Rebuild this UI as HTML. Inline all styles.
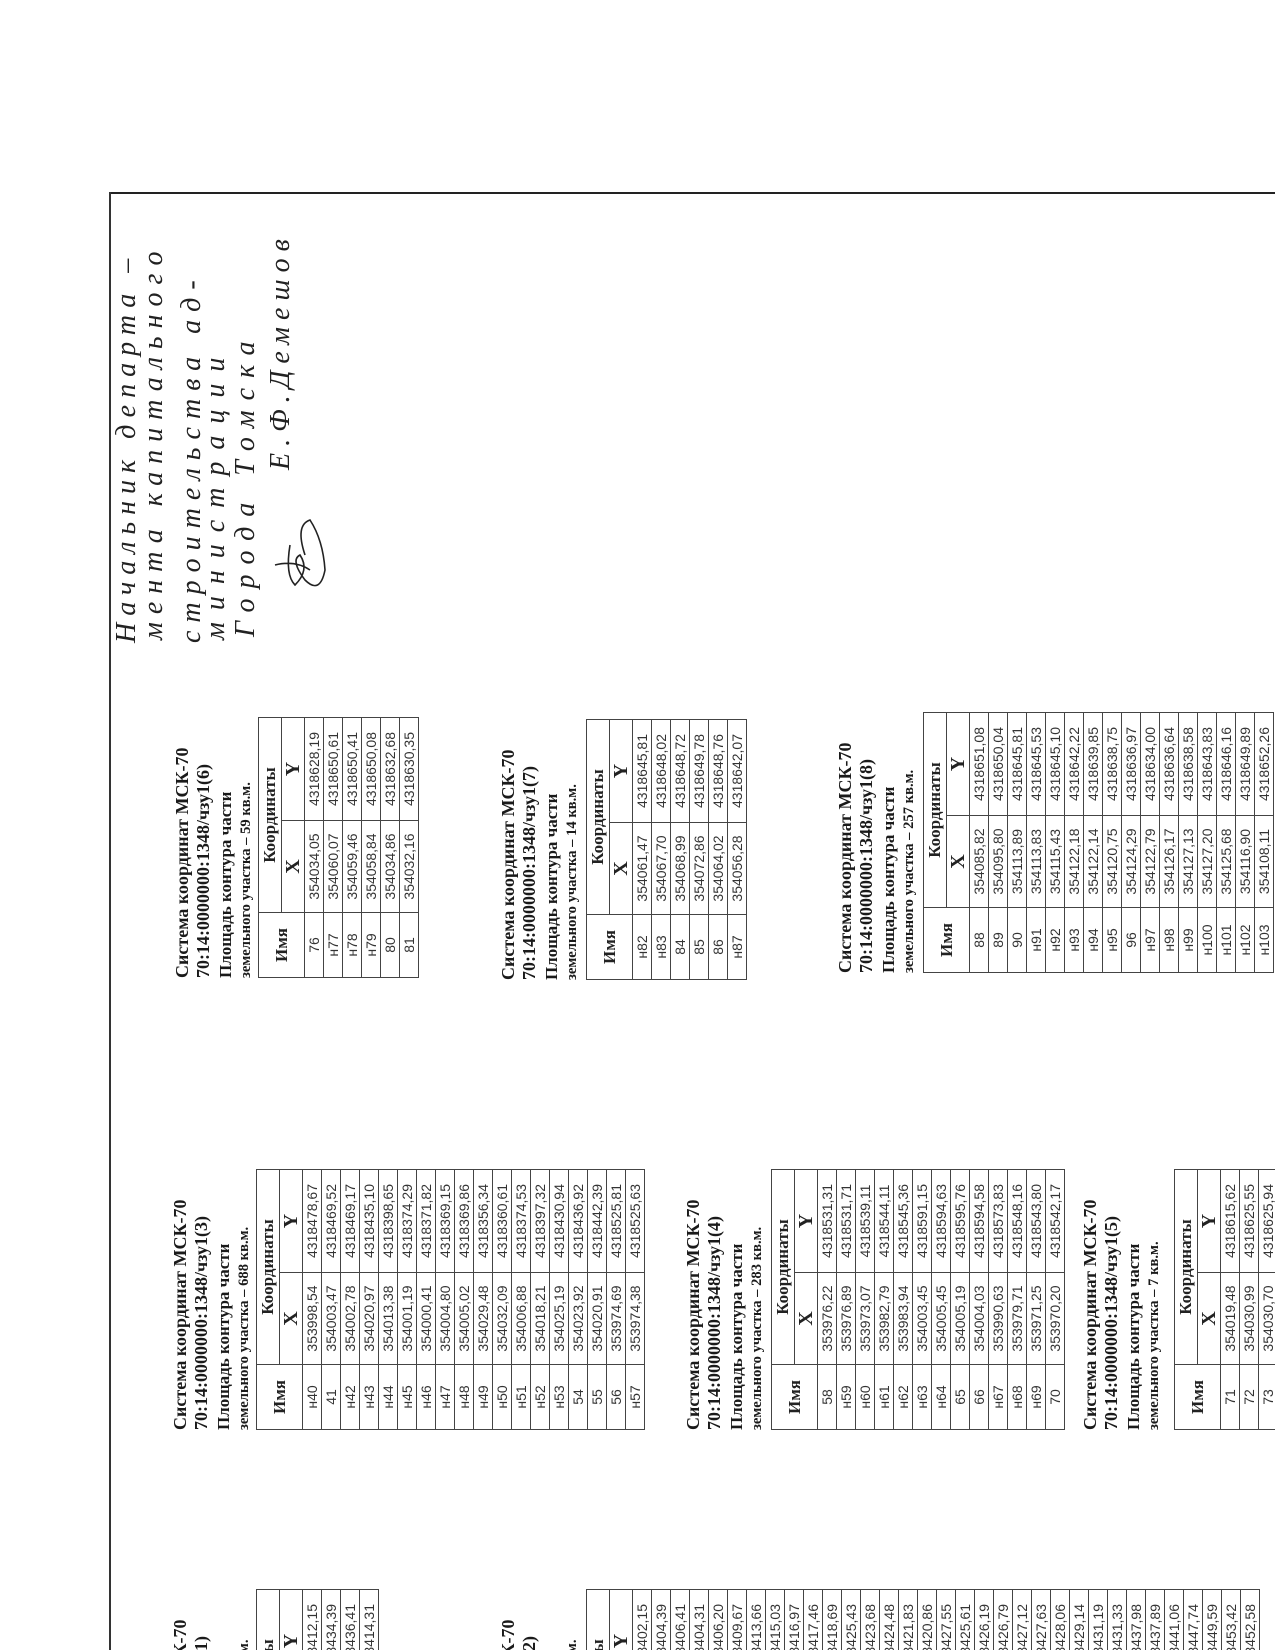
<!DOCTYPE html>
<html><head><meta charset="utf-8">
<style>
html,body{margin:0;padding:0;background:#fff;width:1275px;height:1650px;overflow:hidden;}
#pg{position:relative;width:1275px;height:1650px;overflow:hidden;background:#fff;}
.frameT{position:absolute;left:110px;top:192px;width:1165px;height:2px;background:#222;}
.frameL{position:absolute;left:109px;top:192px;width:2px;height:1458px;background:#333;}
.b{position:absolute;width:262px;height:700px;transform:rotate(-90deg);transform-origin:0 0;}
.t{position:absolute;left:0;white-space:nowrap;font-family:"Liberation Serif","DejaVu Serif",serif;font-weight:bold;color:#1a1a1a;}
.l1{top:0;font-size:18px;line-height:21px;}
.l2{top:21px;font-size:18px;line-height:21px;}
.l3{top:43px;font-size:17px;line-height:21px;}
.l4{top:64px;font-size:14.6px;line-height:20px;}
table{position:absolute;left:0;border-collapse:collapse;table-layout:fixed;width:260px;}
td,th{border:1.5px solid #444;padding:0;text-align:center;overflow:hidden;white-space:nowrap;}
th{font-family:"Liberation Serif",serif;font-weight:bold;color:#222;height:22px;line-height:20px;}
th.n{font-size:17px;}
th.k{font-size:17px;}
th.xy{font-size:20px;}
td{height:18px;line-height:17px;font-family:"Liberation Sans",sans-serif;font-size:14px;color:#333;}
.hw{position:absolute;white-space:nowrap;font-family:"Liberation Serif",serif;font-style:italic;font-size:28px;line-height:32px;color:#222;transform:rotate(-90deg);transform-origin:0 0;}
</style></head><body>
<div id="pg">
<div class="frameT"></div><div class="frameL"></div>

<div class="hw" style="left:111px;top:643px;letter-spacing:7px;">Начальник департа –</div>
<div class="hw" style="left:138px;top:640px;letter-spacing:8px;">мента капитального</div>
<div class="hw" style="left:176px;top:643px;letter-spacing:8px;">строительства ад-</div>
<div class="hw" style="left:200px;top:640px;letter-spacing:12px;">министрации</div>
<div class="hw" style="left:230px;top:637px;letter-spacing:10px;">Города Томска</div>
<div class="hw" style="left:265px;top:470px;letter-spacing:7px;">Е.Ф.Демешов</div>
<svg style="position:absolute;left:265px;top:500px" width="80" height="100" viewBox="0 0 80 100">
<path d="M10 65 Q30 60 45 70 M25 45 Q20 75 30 85 Q45 70 35 55 Q25 60 40 80 Q55 95 60 70 Q58 40 45 20 Q30 25 40 55" fill="none" stroke="#222" stroke-width="1.6"/>
</svg>

<div class="b" style="left:170px;top:1850px;">
<div class="t l1">Система координат МСК-70</div>
<div class="t l2">70:14:0000000:1348/чзу1(1)</div>
<div class="t l3">Площадь контура части</div>
<div class="t l4">земельного участка – 1006 кв.м.</div>
<table style="top:86px"><colgroup><col style="width:65px"><col style="width:92px"><col style="width:103px"></colgroup>
<tr><th class="n" rowspan="2">Имя</th><th class="k" colspan="2">Координаты</th></tr>
<tr><th class="xy">X</th><th class="xy">Y</th></tr>
<tr><td>1</td><td>353911,24</td><td>4318412,15</td></tr>
<tr><td>2</td><td>353918,03</td><td>4318434,39</td></tr>
<tr><td>3</td><td>353923,58</td><td>4318436,41</td></tr>
<tr><td>4</td><td>353921,71</td><td>4318414,31</td></tr>
</table></div>

<div class="b" style="left:498px;top:1850px;">
<div class="t l1">Система координат МСК-70</div>
<div class="t l2">70:14:0000000:1348/чзу1(2)</div>
<div class="t l3">Площадь контура части</div>
<div class="t l4">земельного участка – 1091 кв.м.</div>
<table style="top:88px"><colgroup><col style="width:65px"><col style="width:92px"><col style="width:103px"></colgroup>
<tr><th class="n" rowspan="2">Имя</th><th class="k" colspan="2">Координаты</th></tr>
<tr><th class="xy">X</th><th class="xy">Y</th></tr>
<tr><td>5</td><td>353930,10</td><td>4318402,15</td></tr>
<tr><td>6</td><td>353931,20</td><td>4318404,39</td></tr>
<tr><td>7</td><td>353932,30</td><td>4318406,41</td></tr>
<tr><td>8</td><td>353933,40</td><td>4318404,31</td></tr>
<tr><td>9</td><td>353934,50</td><td>4318406,20</td></tr>
<tr><td>10</td><td>353935,60</td><td>4318409,67</td></tr>
<tr><td>11</td><td>353936,70</td><td>4318413,66</td></tr>
<tr><td>12</td><td>353937,80</td><td>4318415,03</td></tr>
<tr><td>13</td><td>353938,90</td><td>4318416,97</td></tr>
<tr><td>14</td><td>353939,10</td><td>4318417,46</td></tr>
<tr><td>15</td><td>353940,20</td><td>4318418,69</td></tr>
<tr><td>16</td><td>353941,30</td><td>4318425,43</td></tr>
<tr><td>17</td><td>353942,40</td><td>4318423,68</td></tr>
<tr><td>18</td><td>353943,50</td><td>4318424,48</td></tr>
<tr><td>19</td><td>353944,60</td><td>4318421,83</td></tr>
<tr><td>20</td><td>353945,70</td><td>4318420,86</td></tr>
<tr><td>21</td><td>353946,80</td><td>4318427,55</td></tr>
<tr><td>22</td><td>353947,90</td><td>4318425,61</td></tr>
<tr><td>23</td><td>353948,10</td><td>4318426,19</td></tr>
<tr><td>24</td><td>353949,20</td><td>4318426,79</td></tr>
<tr><td>25</td><td>353950,30</td><td>4318427,12</td></tr>
<tr><td>26</td><td>353951,40</td><td>4318427,63</td></tr>
<tr><td>27</td><td>353952,50</td><td>4318428,06</td></tr>
<tr><td>28</td><td>353953,60</td><td>4318429,14</td></tr>
<tr><td>29</td><td>353954,70</td><td>4318431,19</td></tr>
<tr><td>30</td><td>353955,80</td><td>4318431,33</td></tr>
<tr><td>31</td><td>353956,90</td><td>4318437,98</td></tr>
<tr><td>32</td><td>353957,10</td><td>4318437,89</td></tr>
<tr><td>33</td><td>353958,20</td><td>4318441,06</td></tr>
<tr><td>34</td><td>353959,30</td><td>4318447,74</td></tr>
<tr><td>35</td><td>353960,40</td><td>4318449,59</td></tr>
<tr><td>36</td><td>353961,50</td><td>4318453,42</td></tr>
<tr><td>37</td><td>353962,60</td><td>4318452,58</td></tr>
</table></div>

<div class="b" style="left:170px;top:1430px;">
<div class="t l1">Система координат МСК-70</div>
<div class="t l2">70:14:0000000:1348/чзу1(3)</div>
<div class="t l3">Площадь контура части</div>
<div class="t l4">земельного участка – 688 кв.м.</div>
<table style="top:86px"><colgroup><col style="width:65px"><col style="width:92px"><col style="width:103px"></colgroup>
<tr><th class="n" rowspan="2">Имя</th><th class="k" colspan="2">Координаты</th></tr>
<tr><th class="xy">X</th><th class="xy">Y</th></tr>
<tr><td>н40</td><td>353998,54</td><td>4318478,67</td></tr>
<tr><td>41</td><td>354003,47</td><td>4318469,52</td></tr>
<tr><td>н42</td><td>354002,78</td><td>4318469,17</td></tr>
<tr><td>н43</td><td>354020,97</td><td>4318435,10</td></tr>
<tr><td>н44</td><td>354013,38</td><td>4318398,65</td></tr>
<tr><td>н45</td><td>354001,19</td><td>4318374,29</td></tr>
<tr><td>н46</td><td>354000,41</td><td>4318371,82</td></tr>
<tr><td>н47</td><td>354004,80</td><td>4318369,15</td></tr>
<tr><td>н48</td><td>354005,02</td><td>4318369,86</td></tr>
<tr><td>н49</td><td>354029,48</td><td>4318356,34</td></tr>
<tr><td>н50</td><td>354032,09</td><td>4318360,61</td></tr>
<tr><td>н51</td><td>354006,88</td><td>4318374,53</td></tr>
<tr><td>н52</td><td>354018,21</td><td>4318397,32</td></tr>
<tr><td>н53</td><td>354025,19</td><td>4318430,94</td></tr>
<tr><td>54</td><td>354023,92</td><td>4318436,92</td></tr>
<tr><td>55</td><td>354020,91</td><td>4318442,39</td></tr>
<tr><td>56</td><td>353974,69</td><td>4318525,81</td></tr>
<tr><td>н57</td><td>353974,38</td><td>4318525,63</td></tr>
</table></div>

<div class="b" style="left:683px;top:1430px;">
<div class="t l1">Система координат МСК-70</div>
<div class="t l2">70:14:0000000:1348/чзу1(4)</div>
<div class="t l3">Площадь контура части</div>
<div class="t l4">земельного участка – 283 кв.м.</div>
<table style="top:88px"><colgroup><col style="width:65px"><col style="width:92px"><col style="width:103px"></colgroup>
<tr><th class="n" rowspan="2">Имя</th><th class="k" colspan="2">Координаты</th></tr>
<tr><th class="xy">X</th><th class="xy">Y</th></tr>
<tr><td>58</td><td>353976,22</td><td>4318531,31</td></tr>
<tr><td>н59</td><td>353976,89</td><td>4318531,71</td></tr>
<tr><td>н60</td><td>353973,07</td><td>4318539,11</td></tr>
<tr><td>н61</td><td>353982,79</td><td>4318544,11</td></tr>
<tr><td>н62</td><td>353983,94</td><td>4318545,36</td></tr>
<tr><td>н63</td><td>354003,45</td><td>4318591,15</td></tr>
<tr><td>н64</td><td>354005,45</td><td>4318594,63</td></tr>
<tr><td>65</td><td>354005,19</td><td>4318595,76</td></tr>
<tr><td>66</td><td>354004,03</td><td>4318594,58</td></tr>
<tr><td>н67</td><td>353990,63</td><td>4318573,83</td></tr>
<tr><td>н68</td><td>353979,71</td><td>4318548,16</td></tr>
<tr><td>н69</td><td>353971,25</td><td>4318543,80</td></tr>
<tr><td>70</td><td>353970,20</td><td>4318542,17</td></tr>
</table></div>

<div class="b" style="left:1080px;top:1430px;">
<div class="t l1">Система координат МСК-70</div>
<div class="t l2">70:14:0000000:1348/чзу1(5)</div>
<div class="t l3">Площадь контура части</div>
<div class="t l4">земельного участка – 7 кв.м.</div>
<table style="top:94px"><colgroup><col style="width:65px"><col style="width:92px"><col style="width:103px"></colgroup>
<tr><th class="n" rowspan="2">Имя</th><th class="k" colspan="2">Координаты</th></tr>
<tr><th class="xy">X</th><th class="xy">Y</th></tr>
<tr><td>71</td><td>354019,48</td><td>4318615,62</td></tr>
<tr><td>72</td><td>354030,99</td><td>4318625,55</td></tr>
<tr><td>73</td><td>354030,70</td><td>4318625,94</td></tr>
</table></div>

<div class="b" style="left:172px;top:978px;">
<div class="t l1">Система координат МСК-70</div>
<div class="t l2">70:14:0000000:1348/чзу1(6)</div>
<div class="t l3">Площадь контура части</div>
<div class="t l4">земельного участка – 59 кв.м.</div>
<table style="top:86px"><colgroup><col style="width:65px"><col style="width:92px"><col style="width:103px"></colgroup>
<tr><th class="n" rowspan="2">Имя</th><th class="k" colspan="2">Координаты</th></tr>
<tr><th class="xy">X</th><th class="xy">Y</th></tr>
<tr><td>76</td><td>354034,05</td><td>4318628,19</td></tr>
<tr><td>н77</td><td>354060,07</td><td>4318650,61</td></tr>
<tr><td>н78</td><td>354059,46</td><td>4318650,41</td></tr>
<tr><td>н79</td><td>354058,84</td><td>4318650,08</td></tr>
<tr><td>80</td><td>354034,86</td><td>4318632,68</td></tr>
<tr><td>81</td><td>354032,16</td><td>4318630,35</td></tr>
</table></div>

<div class="b" style="left:498px;top:980px;">
<div class="t l1">Система координат МСК-70</div>
<div class="t l2">70:14:0000000:1348/чзу1(7)</div>
<div class="t l3">Площадь контура части</div>
<div class="t l4">земельного участка – 14 кв.м.</div>
<table style="top:88px"><colgroup><col style="width:65px"><col style="width:92px"><col style="width:103px"></colgroup>
<tr><th class="n" rowspan="2">Имя</th><th class="k" colspan="2">Координаты</th></tr>
<tr><th class="xy">X</th><th class="xy">Y</th></tr>
<tr><td>н82</td><td>354061,47</td><td>4318645,81</td></tr>
<tr><td>н83</td><td>354067,70</td><td>4318648,02</td></tr>
<tr><td>84</td><td>354068,99</td><td>4318648,72</td></tr>
<tr><td>85</td><td>354072,86</td><td>4318649,78</td></tr>
<tr><td>86</td><td>354064,02</td><td>4318648,76</td></tr>
<tr><td>н87</td><td>354056,28</td><td>4318642,07</td></tr>
</table></div>

<div class="b" style="left:835px;top:973px;">
<div class="t l1">Система координат МСК-70</div>
<div class="t l2">70:14:0000000:1348/чзу1(8)</div>
<div class="t l3">Площадь контура части</div>
<div class="t l4">земельного участка – 257 кв.м.</div>
<table style="top:88px"><colgroup><col style="width:65px"><col style="width:92px"><col style="width:103px"></colgroup>
<tr><th class="n" rowspan="2">Имя</th><th class="k" colspan="2">Координаты</th></tr>
<tr><th class="xy">X</th><th class="xy">Y</th></tr>
<tr><td>88</td><td>354085,82</td><td>4318651,08</td></tr>
<tr><td>89</td><td>354095,80</td><td>4318650,04</td></tr>
<tr><td>90</td><td>354113,89</td><td>4318645,81</td></tr>
<tr><td>н91</td><td>354113,83</td><td>4318645,53</td></tr>
<tr><td>н92</td><td>354115,43</td><td>4318645,10</td></tr>
<tr><td>н93</td><td>354122,18</td><td>4318642,22</td></tr>
<tr><td>н94</td><td>354122,14</td><td>4318639,85</td></tr>
<tr><td>н95</td><td>354120,75</td><td>4318638,75</td></tr>
<tr><td>96</td><td>354124,29</td><td>4318636,97</td></tr>
<tr><td>н97</td><td>354122,79</td><td>4318634,00</td></tr>
<tr><td>н98</td><td>354126,17</td><td>4318636,64</td></tr>
<tr><td>н99</td><td>354127,13</td><td>4318638,58</td></tr>
<tr><td>н100</td><td>354127,20</td><td>4318643,83</td></tr>
<tr><td>н101</td><td>354125,68</td><td>4318646,16</td></tr>
<tr><td>н102</td><td>354116,90</td><td>4318649,89</td></tr>
<tr><td>н103</td><td>354108,11</td><td>4318652,26</td></tr>
</table></div>
</div>
</body></html>
